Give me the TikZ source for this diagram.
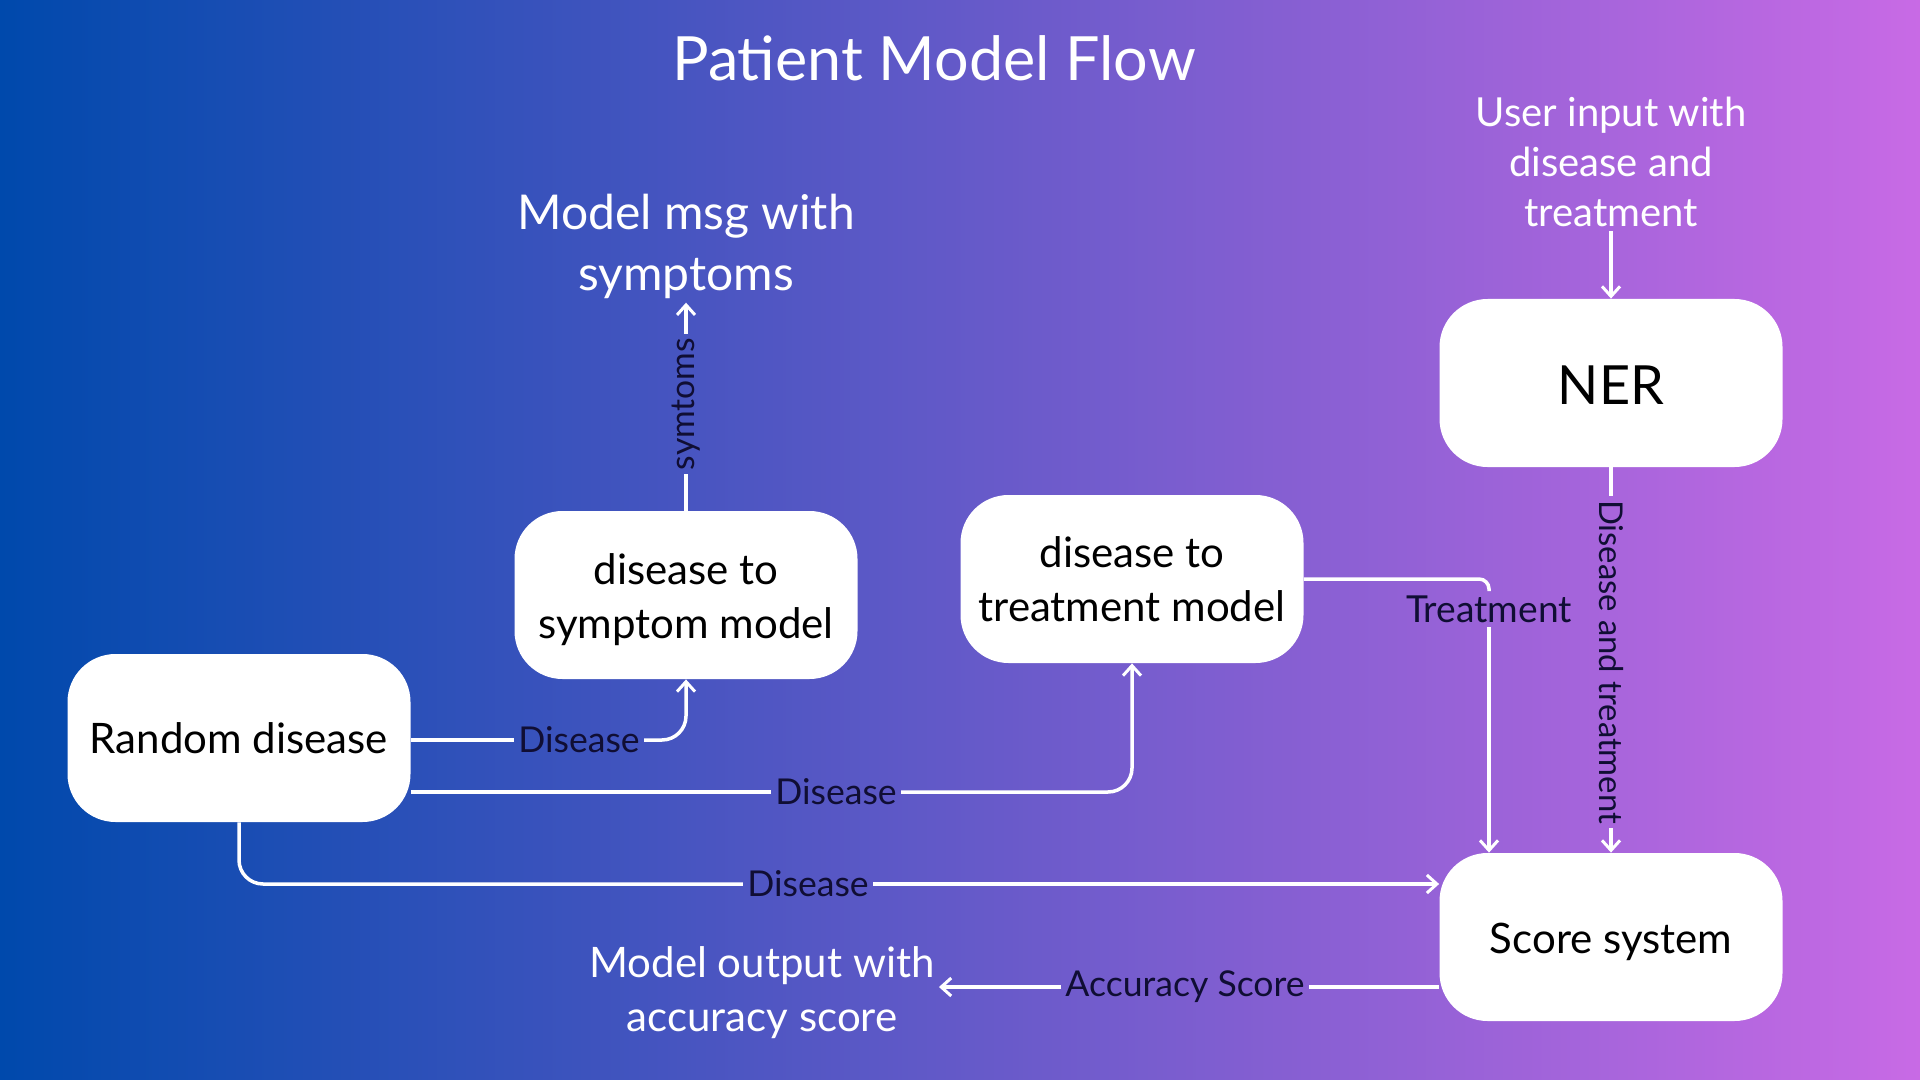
\documentclass[tikz,border=0pt]{standalone}
\usepackage{fontspec}
\setmainfont{Lato}
\usetikzlibrary{arrows.meta}
\definecolor{bgL}{HTML}{0049AC}
\definecolor{bgR}{HTML}{C86AE5}
\definecolor{lab}{HTML}{100E34}
\newcommand{\lowerby}[2]{\raisebox{-#1}[\height][\depth]{#2}}
\begin{document}
\begin{tikzpicture}[x=0.5pt,y=-0.5pt,
  box/.style={draw=none, fill=white, rounded corners=24pt, minimum width=171.5pt, minimum height=84pt, align=center, font=\fontsize{21}{27}\selectfont, text=black},
  conn/.style={draw=white, line width=1.75pt},
  arr/.style={conn, -{Straight Barb[length=5pt,width=9pt,line width=1.5pt]}},
  lbl/.style={text=lab, font=\fontsize{17.8}{21}\selectfont, inner sep=2pt},
  wtxt/.style={text=white, align=center, inner sep=2pt}]

\shade[left color=bgL, right color=bgR] (0,0) rectangle (1920,1080);
\useasboundingbox (0,0) rectangle (1920,1080);

% title and free texts
\node[text=white, font=\fontsize{30.5}{36}\selectfont] (title) at (934,58) {Patient Model Flow};
\node[wtxt, font=\fontsize{24}{30.5}\selectfont] (msg) at (686,246) {Model msg with\\symptoms};
\node[wtxt, font=\fontsize{20}{25}\selectfont] (ui) at (1611,162) {User input with\\disease and\\treatment};
\node[wtxt, font=\fontsize{21}{27}\selectfont] (mo) at (762,993) {Model output with\\accuracy score};

% boxes
\node[box] (rd) at (239,738) {Random disease};
\node[box] (sm) at (686,595) {\lowerby{3pt}{\begin{tabular}{@{}c@{}}disease to\\symptom model\end{tabular}}};
\node[box] (tm) at (1132,579) {\lowerby{2.5pt}{\begin{tabular}{@{}c@{}}disease to\\treatment model\end{tabular}}};
\node[box, font=\fontsize{27}{32}\selectfont] (ner) at (1611,383) {\lowerby{1.2pt}{NER}};
\node[box] (ss) at (1611,937) {\lowerby{2.5pt}{Score system}};

% Random disease -> symptom model
\node[lbl] (l1) at (579,740) {Disease};
\draw[conn] (l1.west -| rd.east) -- (l1.west);
\draw[arr, rounded corners=12pt] (l1.east) -| (sm.south);

% Random disease -> treatment model
\node[lbl] (l2) at (836,792) {Disease};
\draw[conn] (l2.west -| rd.east) -- (l2.west);
\draw[arr, rounded corners=12pt] (l2.east) -| (tm.south);

% Random disease -> score system
\node[lbl] (l3) at (808,884) {Disease};
\draw[conn, rounded corners=12pt] (rd.south) |- (l3.west);
\draw[arr] (l3.east) -- (l3.east -| ss.west);

% symptom model -> message
\node[lbl, rotate=90, font=\fontsize{16.8}{20}\selectfont] (l4) at (686,404) {symtoms};
\draw[conn] (sm.north) -- (l4.west);
\draw[arr] (l4.east) -- (msg.south);

% user input -> NER
\draw[arr] (ui.south) -- (ner.north);

% NER -> score system
\node[lbl, rotate=-90, font=\fontsize{16.4}{20}\selectfont] (l6) at (1611,662) {Disease and treatment};
\draw[conn] (ner.south) -- (l6.west);
\draw[arr] (l6.east) -- (ss.north);

% treatment model -> score system
\node[lbl, font=\fontsize{18.6}{22}\selectfont] (l7) at (1489,609) {Treatment};
\draw[conn, rounded corners=5pt] (tm.east) -| (l7.north);
\draw[arr] (l7.south) -- (l7.south |- ss.north);

% score system -> output
\node[lbl] (l8) at (1185,987) {Accuracy Score};
\draw[conn] (l8.east -| ss.west) -- (l8.east);
\draw[arr] (l8.west) -- (l8.west -| mo.east);
\end{tikzpicture}
\end{document}
